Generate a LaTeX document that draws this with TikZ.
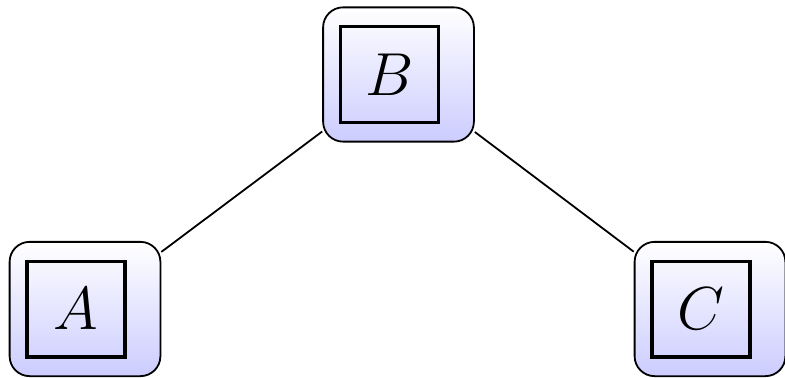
\documentclass[tikz,border=0pt]{standalone}
\usepackage{graphicx}
\usepackage{tikz}
\usetikzlibrary{positioning}

\newcommand{\biglabel}[1]{\scalebox{1.22}{$#1$}}

\begin{document}
\begin{tikzpicture}[
    outerbox/.style={rectangle, draw=black, line width=0.9pt, rounded corners=10pt, top color=white, bottom color=blue!20, minimum width=2.65cm, minimum height=2.36cm},
    innerbox/.style={rectangle, draw=black, line width=1.7pt, minimum width=1.72cm, minimum height=1.68cm, font=\Huge},
    link/.style={line width=0.9pt}
]
    \useasboundingbox (0,0) rectangle (13.795,-6.625);

    % Outer shaded boxes
    \node[outerbox] (b) at (7.003, -1.309) {};
    \node[outerbox] (a) at (1.494, -5.430) {};
    \node[outerbox] (c) at (12.477, -5.430) {};

    % Inner framed letters
    \node[innerbox] (b-in) at ([xshift=-0.16cm]b.center) {\biglabel{B}};
    \node[innerbox] (a-in) at ([xshift=-0.16cm]a.center) {\biglabel{A}};
    \node[innerbox] (c-in) at ([xshift=-0.16cm]c.center) {\biglabel{C}};

    % Links
    \draw[link] (b) -- (a);
    \draw[link] (b) -- (c);

\end{tikzpicture}
\end{document}
